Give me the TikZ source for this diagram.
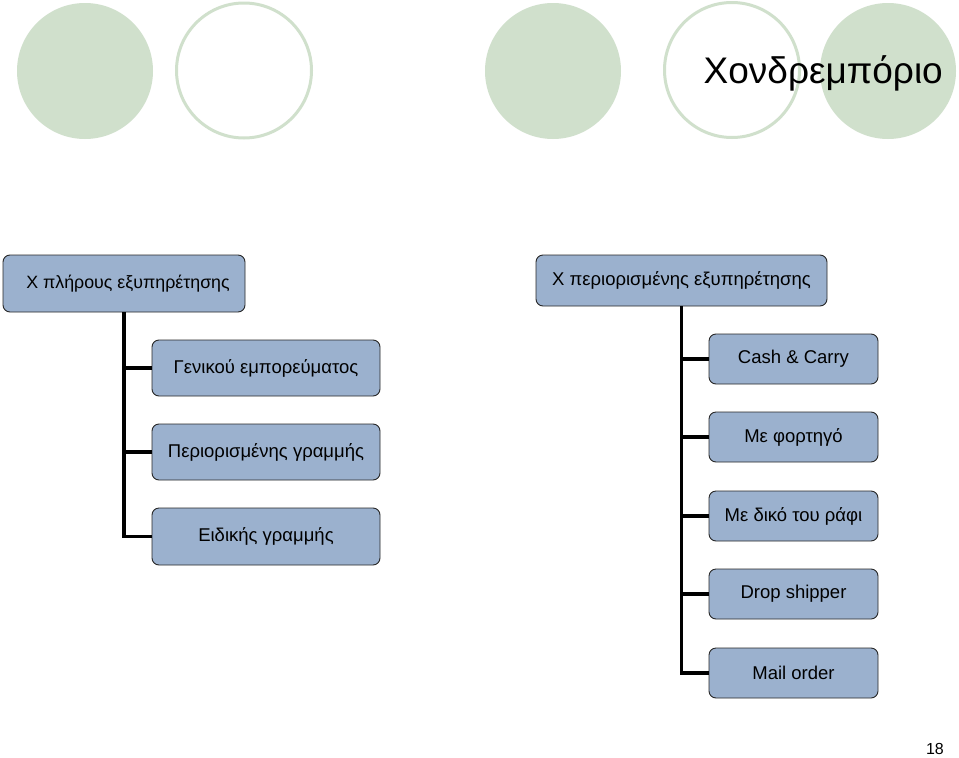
\documentclass[tikz,border=0pt]{standalone}
\usepackage{fontspec}
\setmainfont{Liberation Sans}
\definecolor{circgreen}{RGB}{208,224,204}
\definecolor{boxblue}{RGB}{155,177,206}
\definecolor{boxline}{RGB}{40,40,40}
\begin{document}
\begin{tikzpicture}[x=1pt,y=-1pt,
  fillcirc/.style={circle,fill=circgreen,draw=none,minimum size=136pt,inner sep=0pt},
  ringcirc/.style={circle,draw=circgreen,line width=3pt,minimum size=135pt,inner sep=0pt},
  itembox/.style={rectangle,rounded corners=7pt,draw=boxline,line width=0.9pt,fill=boxblue,
    font=\fontsize{18.5}{22}\selectfont,inner sep=0pt,anchor=center},
  branch/.style={line width=3.5pt,black}]
\useasboundingbox (0,0) rectangle (959,758);
\fill[white] (0,0) rectangle (959,758);
% decorative circles
\node[fillcirc] (c1) at (85,71) {};
\node[ringcirc] (c2) at (244,70.5) {};
\node[fillcirc] (c3) at (553,71) {};
\node[ringcirc] (c4) at (732,70) {};
\node[fillcirc] (c5) at (888,71) {};
\node[anchor=base east,inner sep=0pt,font=\fontsize{37}{40}\selectfont] (title) at (943,83) {Χονδρεμπόριο};
% left tree
\node[itembox,minimum width=242pt,minimum height=57pt,font=\fontsize{17.8}{22}\selectfont] (lroot) at (124,283.5) {\hspace{8pt}Χ πλήρους εξυπηρέτησης};
\node[itembox,minimum width=228pt,minimum height=56pt] (l1) at (266,368) {Γενικού εμπορεύματος};
\node[itembox,minimum width=228pt,minimum height=56pt] (l2) at (266,452) {Περιορισμένης γραμμής};
\node[itembox,minimum width=228pt,minimum height=57pt] (l3) at (266,536.5) {Ειδικής γραμμής};
% right tree
\node[itembox,minimum width=291pt,minimum height=51pt] (rroot) at (681.5,280.5) {Χ περιορισμένης εξυπηρέτησης};
\node[itembox,minimum width=169pt,minimum height=50pt] (r1) at (793.5,359) {Cash \& Carry};
\node[itembox,minimum width=169pt,minimum height=50pt] (r2) at (793.5,437) {Με φορτηγό};
\node[itembox,minimum width=169pt,minimum height=50pt] (r3) at (793.5,516) {Με δικό του ράφι};
\node[itembox,minimum width=169pt,minimum height=50pt] (r4) at (793.5,594) {Drop shipper};
\node[itembox,minimum width=169pt,minimum height=50pt] (r5) at (793.5,673) {Mail order};
% connectors
\draw[branch] (lroot.south) |- (l3.west);
\draw[branch] (l1.west) -- (l1.west -| lroot.south);
\draw[branch] (l2.west) -- (l2.west -| lroot.south);
\draw[branch] (rroot.south) |- (r5.west);
\draw[branch] (r1.west) -- (r1.west -| rroot.south);
\draw[branch] (r2.west) -- (r2.west -| rroot.south);
\draw[branch] (r3.west) -- (r3.west -| rroot.south);
\draw[branch] (r4.west) -- (r4.west -| rroot.south);
% page number
\node[anchor=base east,inner sep=0pt,font=\fontsize{16}{18}\selectfont] (pnum) at (944,754) {18};
\end{tikzpicture}
\end{document}
